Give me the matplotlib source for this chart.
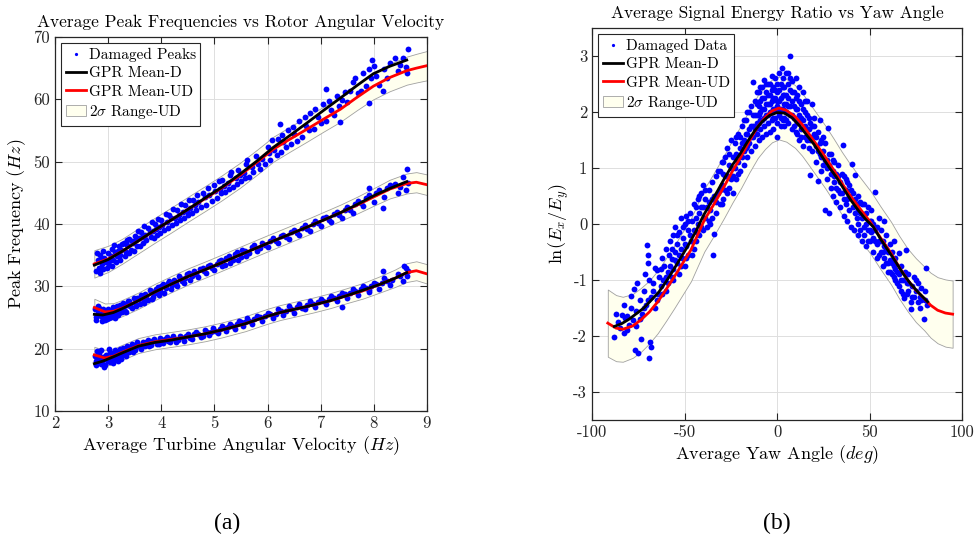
import numpy as np
import matplotlib
matplotlib.use('Agg')
import matplotlib.pyplot as plt

plt.rcParams['font.family'] = 'serif'
plt.rcParams['font.serif'] = ['cmr10']
plt.rcParams['mathtext.fontset'] = 'cm'
plt.rcParams['axes.formatter.use_mathtext'] = False
plt.rcParams['axes.unicode_minus'] = False

# ---------------- (a) peak frequencies vs rotor angular velocity ----------------
# GPR mean of undamaged data (red) and its 2 sigma half width, three peaks
up_x = [2.74, 3.0, 3.26, 3.57, 3.88, 4.2, 4.51, 4.83, 5.14, 5.48, 5.8, 6.11, 6.42,
        6.74, 7.05, 7.37, 7.68, 7.99, 8.3, 8.62, 8.8, 9.0]
up_ud = [33.6, 34.4, 35.6, 37.3, 39.0, 40.7, 42.4, 44.1, 45.8, 47.8, 49.9, 52.0, 53.6,
         55.2, 56.8, 58.4, 60.3, 62.1, 63.5, 64.6, 65.0, 65.4]
up_sig = [2.2, 2.1, 2.0, 2.0, 2.0, 2.0, 2.0, 2.0, 2.0, 2.0, 2.0, 2.0, 2.0,
          2.0, 2.0, 2.0, 2.05, 2.1, 2.2, 2.25, 2.3, 2.35]
up_dx = [2.74, 3.0, 3.26, 3.57, 3.88, 4.2, 4.51, 4.83, 5.14, 5.48, 5.8, 6.11, 6.42,
         6.74, 7.05, 7.37, 7.68, 7.99, 8.3, 8.62]
up_d = [33.4, 34.3, 35.6, 37.3, 39.05, 40.7, 42.4, 44.2, 45.9, 48.0, 50.1, 52.3, 54.2,
        56.2, 58.2, 60.2, 62.2, 64.1, 65.3, 66.3]

mid_x = [2.74, 2.94, 3.1, 3.26, 3.57, 3.88, 4.2, 4.51, 4.83, 5.14, 5.58, 6.0, 6.4, 6.8,
         7.37, 7.68, 7.99, 8.3, 8.62, 8.8, 9.0]
mid_ud = [26.6, 25.9, 26.0, 26.5, 27.7, 29.1, 30.4, 31.6, 32.7, 33.8, 35.4, 36.9, 38.3,
          39.7, 41.8, 43.0, 44.3, 45.6, 46.5, 46.7, 46.3]
mid_sig = [1.4, 1.35, 1.3, 1.3, 1.3, 1.3, 1.3, 1.3, 1.3, 1.3, 1.3, 1.3, 1.3, 1.3,
           1.3, 1.35, 1.4, 1.5, 1.6, 1.62, 1.65]
mid_dx = [2.74, 2.9, 3.1, 3.26, 3.57, 3.88, 4.2, 4.51, 4.83, 5.14, 5.58, 6.0, 6.4, 6.8,
          7.37, 7.68, 7.99, 8.3, 8.62]
mid_d = [25.5, 25.4, 25.8, 26.4, 27.7, 29.1, 30.4, 31.6, 32.7, 33.8, 35.4, 36.9, 38.3,
         39.7, 41.8, 43.1, 44.5, 45.7, 46.8]

low_x = [2.74, 2.94, 3.1, 3.26, 3.57, 3.88, 4.2, 4.51, 4.83, 5.14, 5.58, 6.0, 6.24,
         6.55, 6.86, 7.18, 7.49, 7.8, 8.11, 8.4, 8.62, 8.8, 9.0]
low_ud = [19.0, 18.5, 18.8, 19.4, 20.5, 21.1, 21.5, 21.9, 22.4, 23.0, 24.0, 25.2, 25.8,
          26.4, 27.0, 27.7, 28.5, 29.3, 30.3, 31.3, 32.2, 32.5, 32.0]
low_sig = [1.3, 1.25, 1.2, 1.2, 1.2, 1.2, 1.2, 1.2, 1.2, 1.2, 1.2, 1.2, 1.2,
           1.2, 1.2, 1.2, 1.2, 1.25, 1.3, 1.4, 1.5, 1.52, 1.55]
low_dx = [2.74, 2.9, 3.1, 3.26, 3.57, 3.88, 4.2, 4.51, 4.83, 5.14, 5.58, 6.0, 6.24,
          6.55, 6.86, 7.18, 7.49, 7.8, 8.11, 8.4, 8.62]
low_d = [17.6, 18.0, 18.7, 19.3, 20.4, 21.0, 21.4, 21.9, 22.4, 23.0, 24.0, 25.2, 25.8,
         26.4, 27.0, 27.7, 28.5, 29.4, 30.3, 31.3, 32.2]

# damaged peaks
up_pts = [(2.78,32.5),(2.8,34.2),(2.82,33.0),(2.85,35.0),(2.88,33.6),(2.9,32.8),(2.93,34.6),
    (2.96,33.9),(3.0,35.3),(3.02,33.4),(3.05,34.8),(3.08,36.0),(3.1,34.2),(3.13,35.5),
    (3.16,34.9),(3.2,36.4),(3.22,35.0),(3.25,35.9),(3.3,37.0),(3.33,35.5),(3.36,36.6),
    (3.4,37.6),(3.43,35.9),(3.47,36.9),(3.5,38.0),(3.54,36.5),(3.58,37.8),(3.62,38.7),
    (3.66,37.0),(3.7,38.2),(3.75,39.3),(3.8,37.9),(3.84,38.9),(3.88,40.0),(3.92,38.3),
    (3.96,39.5),(4.0,40.6),(4.05,39.0),(4.1,40.3),(4.15,41.5),(4.2,39.8),(4.25,41.0),
    (4.3,42.2),(4.35,40.6),(4.4,41.9),(4.45,43.0),(4.5,41.5),(4.55,42.6),(4.6,43.9),
    (4.65,42.2),(4.7,43.5),(4.78,45.0),(4.85,43.1),(4.9,44.6),(5.0,46.2),(5.05,44.2),
    (5.1,45.6),(5.15,47.0),(5.2,45.1),(5.25,46.6),(5.3,47.9),(5.35,45.9),(5.4,47.3),
    (5.45,48.6),(5.5,46.9),(5.55,48.2),(5.6,49.7),(5.65,47.6),(5.7,49.2),(5.78,50.9),
    (5.85,48.9),(5.9,50.5),(6.0,52.3),(6.05,50.2),(6.12,51.8),(6.2,53.6),(6.25,51.5),
    (6.3,53.2),(6.38,55.0),(6.45,52.8),(6.5,54.4),(6.6,56.5),(6.65,54.0),(6.72,55.8),
    (6.8,57.8),(6.88,55.3),(6.95,57.2),(7.05,59.2),(7.1,56.6),(7.2,58.3),(7.3,60.6),
    (7.35,58.9),(7.45,61.2),(7.5,59.6),(7.6,62.8),(7.7,61.0),(7.8,64.2),(7.85,62.2),
    (7.95,63.5),(8.0,65.3),(8.1,62.3),(8.2,64.8),(8.3,65.9),(8.45,64.5),(8.55,66.6),
    (8.6,65.2),(8.65,68.0),(8.62,64.3),(7.1,61.7),(7.9,59.4),(8.18,61.4),(7.96,66.3),
    (7.37,56.4),(6.24,56.0)]
up_pts2 = [(2.79,35.3),(2.84,32.1),(2.87,34.3),(2.91,35.6),(2.97,32.9),(3.01,34.0),
    (3.07,33.2),(3.11,36.6),(3.15,33.9),(3.19,35.7),(3.23,34.3),(3.27,36.8),(3.31,34.8),
    (3.35,37.4),(3.39,35.3),(3.44,37.2),(3.48,35.6),(3.52,37.5),(3.56,38.9),(3.6,36.4),
    (3.64,37.9),(3.68,39.6),(3.72,37.5),(3.78,38.7),(3.82,40.4),(3.86,37.8),(3.9,39.2),
    (3.94,40.8),(3.98,38.6),(4.02,39.8),(4.08,41.6),(4.12,39.4),(4.18,40.9),(4.22,42.4),
    (4.28,40.2),(4.33,41.4),(4.38,43.2),(4.43,41.0),(4.48,42.1),(4.53,43.9),(4.58,41.8),
    (4.63,43.1),(4.68,44.6),(4.74,42.7),(4.82,44.3),(4.88,45.8),(4.95,43.7),(5.02,45.3),
    (5.08,46.9),(5.12,44.9),(5.18,46.1),(5.28,45.6),(5.32,48.3),(5.42,46.4),(5.48,47.8),
    (5.58,47.4),(5.62,50.3),(5.72,48.3),(5.82,49.6),(5.95,49.7),(6.02,51.4),(6.08,53.4),
    (6.18,51.1),(6.28,54.3),(6.35,52.4),(6.48,55.5),(6.55,53.3),(6.7,57.2),(6.78,55.0),
    (6.9,58.5),(7.0,56.2),(7.15,59.7),(7.25,57.5),(7.4,59.9),(7.55,61.4),(7.65,63.4),
    (7.75,61.4),(7.9,64.9),(8.05,63.8),(8.25,63.5),(8.4,66.6),(8.5,65.5)]

mid_pts = [(2.76,26.3),(2.78,25.0),(2.8,25.8),(2.83,26.6),(2.86,25.2),(2.9,24.9),(2.92,26.0),
    (2.95,25.3),(2.98,24.8),(3.0,26.4),(3.03,25.5),(3.06,25.0),(3.1,26.7),(3.13,25.8),
    (3.17,26.9),(3.2,25.7),(3.24,26.5),(3.28,27.3),(3.32,26.1),(3.36,27.0),(3.4,27.7),
    (3.45,26.5),(3.5,27.4),(3.55,28.2),(3.6,27.1),(3.65,28.0),(3.7,28.8),(3.75,27.8),
    (3.8,29.2),(3.85,28.3),(3.9,29.5),(3.95,28.6),(4.0,30.1),(4.06,29.0),(4.12,30.5),
    (4.18,29.6),(4.24,31.0),(4.3,30.1),(4.36,31.4),(4.42,30.6),(4.48,31.9),(4.55,31.0),
    (4.62,32.4),(4.7,31.5),(4.78,33.0),(4.85,32.2),(4.92,33.5),(5.0,32.6),(5.08,34.0),
    (5.15,33.2),(5.22,34.6),(5.3,33.7),(5.38,35.2),(5.45,34.3),(5.52,35.8),(5.6,34.9),
    (5.7,36.3),(5.8,35.6),(5.9,37.0),(6.0,36.3),(6.1,37.8),(6.2,36.9),(6.3,38.3),
    (6.4,37.6),(6.5,39.1),(6.6,38.3),(6.7,39.9),(6.8,38.9),(6.9,40.5),(7.0,39.6),
    (7.1,41.2),(7.2,40.3),(7.3,42.0),(7.4,41.0),(7.5,42.8),(7.6,41.8),(7.7,43.7),
    (7.8,42.9),(7.9,44.6),(8.0,43.5),(8.1,45.4),(8.2,44.3),(8.3,46.2),(8.45,45.0),
    (8.55,47.5),(8.6,45.5),(8.62,48.9),(8.65,46.6),(7.9,45.7),(8.18,42.6)]
mid_pts2 = [(2.77,24.6),(2.81,26.9),(2.84,25.5),(2.88,24.5),(2.91,26.4),(2.94,24.6),
    (2.97,25.8),(3.01,24.9),(3.05,26.1),(3.08,25.3),(3.12,24.9),(3.15,26.3),(3.19,25.4),
    (3.22,27.0),(3.26,25.9),(3.3,26.8),(3.34,25.9),(3.38,27.6),(3.42,26.8),(3.48,28.1),
    (3.52,26.9),(3.58,27.9),(3.62,28.6),(3.68,27.4),(3.72,28.4),(3.78,29.4),(3.83,28.0),
    (3.88,28.9),(3.93,29.9),(3.98,29.2),(4.03,30.4),(4.09,29.7),(4.15,30.9),(4.21,30.2),
    (4.27,30.6),(4.33,31.7),(4.39,30.9),(4.45,31.3),(4.52,32.2),(4.58,31.6),(4.65,32.0),
    (4.73,32.8),(4.8,32.5),(4.88,33.2),(4.96,32.9),(5.04,33.6),(5.12,34.3),(5.2,33.5),
    (5.27,34.9),(5.35,34.2),(5.42,35.5),(5.5,34.7),(5.57,35.6),(5.65,35.4),(5.75,36.6),
    (5.85,36.1),(5.95,36.6),(6.05,37.3),(6.15,37.2),(6.25,38.0),(6.35,37.9),(6.45,38.7),
    (6.55,38.6),(6.65,39.4),(6.75,39.2),(6.85,40.0),(6.95,40.1),(7.05,40.9),(7.15,40.7),
    (7.25,41.6),(7.35,41.4),(7.45,42.3),(7.55,42.3),(7.65,43.2),(7.75,43.4),(7.85,44.1),
    (8.05,44.9),(8.25,45.8),(8.4,46.4),(8.5,46.0)]

low_pts = [(2.76,18.9),(2.78,17.4),(2.8,18.2),(2.83,19.3),(2.86,17.6),(2.9,18.6),(2.93,17.1),
    (2.96,19.0),(3.0,18.0),(3.03,19.4),(3.06,18.5),(3.1,17.7),(3.13,19.8),(3.17,18.9),
    (3.2,19.5),(3.24,18.3),(3.28,20.1),(3.32,19.2),(3.36,20.4),(3.4,19.4),(3.45,20.7),
    (3.5,19.8),(3.55,21.0),(3.6,20.2),(3.65,21.1),(3.7,20.4),(3.75,21.4),(3.8,20.6),
    (3.86,21.6),(3.92,20.8),(3.98,21.7),(4.04,20.9),(4.1,21.8),(4.16,21.0),(4.22,22.0),
    (4.28,21.1),(4.35,22.1),(4.42,21.3),(4.5,22.4),(4.58,21.6),(4.66,22.7),(4.74,21.9),
    (4.82,23.0),(4.9,22.2),(4.98,23.3),(5.06,22.5),(5.14,23.6),(5.22,22.8),(5.3,24.0),
    (5.38,23.2),(5.46,24.5),(5.54,23.6),(5.62,24.9),(5.7,24.0),(5.8,25.3),(5.9,24.5),
    (6.0,25.8),(6.1,24.9),(6.2,26.4),(6.3,25.4),(6.4,26.8),(6.5,25.8),(6.6,27.1),
    (6.7,26.3),(6.8,27.6),(6.9,26.7),(7.0,28.0),(7.1,27.1),(7.2,28.5),(7.3,27.6),
    (7.4,29.0),(7.5,28.1),(7.6,29.6),(7.7,28.6),(7.8,30.1),(7.9,29.1),(8.0,30.6),
    (8.1,29.6),(8.2,31.3),(8.3,30.2),(8.45,31.9),(8.55,30.9),(8.6,33.0),(8.65,32.4),
    (8.62,31.6),(7.4,26.7),(7.9,29.4),(8.18,32.4),(8.56,33.2)]
low_pts2 = [(2.77,18.0),(2.79,19.6),(2.81,17.8),(2.84,18.7),(2.87,19.8),(2.89,17.9),
    (2.92,18.4),(2.95,17.4),(2.98,18.6),(3.01,19.9),(3.04,17.8),(3.08,19.1),(3.11,18.3),
    (3.15,19.3),(3.19,18.1),(3.22,19.9),(3.26,19.0),(3.3,19.6),(3.34,18.8),(3.38,19.9),
    (3.42,20.2),(3.47,19.5),(3.52,20.5),(3.57,20.6),(3.62,19.9),(3.67,20.8),(3.72,21.0),
    (3.77,20.5),(3.83,21.2),(3.89,21.3),(3.95,20.7),(4.01,21.4),(4.07,21.5),(4.13,21.2),
    (4.19,21.6),(4.25,21.6),(4.31,21.4),(4.38,21.9),(4.46,22.0),(4.54,21.7),(4.62,22.3),
    (4.7,22.3),(4.78,22.1),(4.86,22.6),(4.94,22.7),(5.02,22.9),(5.1,23.1),(5.18,23.3),
    (5.26,23.4),(5.34,23.7),(5.42,23.9),(5.5,24.2),(5.58,24.3),(5.66,24.5),(5.75,24.7),
    (5.85,25.1),(5.95,25.2),(6.05,25.5),(6.15,25.6),(6.25,26.0),(6.35,26.1),(6.45,26.3),
    (6.55,26.7),(6.65,26.6),(6.75,27.0),(6.85,27.2),(6.95,27.5),(7.05,27.6),(7.15,27.9),
    (7.25,28.2),(7.35,28.4),(7.45,28.7),(7.55,28.9),(7.65,29.3),(7.75,29.6),(7.85,29.7),
    (7.95,30.0),(8.05,30.3),(8.15,30.6),(8.25,30.8),(8.35,31.0),(8.5,31.6)]

# ---------------- (b) signal energy ratio vs yaw angle ----------------
yaw_x = [-91.5, -87, -83.4, -78, -73.5, -69, -64.5, -60, -55.5, -51, -46.5, -43, -39.3,
         -34, -28.6, -24, -19.5, -15, -10.4, -6.5, -2.7, 1, 5, 9.7, 13.5, 17, 21.5, 26,
         30.5, 35, 39.5, 44, 50.5, 56, 61.6, 66, 70.6, 75, 79.6, 83, 86.8, 91, 94.9]
yaw_ud = [-1.77, -1.86, -1.88, -1.82, -1.71, -1.57, -1.39, -1.17, -0.94, -0.70, -0.46,
          -0.2, 0.07, 0.36, 0.67, 0.95, 1.2, 1.48, 1.74, 1.9, 2.02, 2.07, 2.03, 1.92,
          1.78, 1.62, 1.41, 1.2, 0.97, 0.73, 0.51, 0.31, 0.03, -0.25, -0.52, -0.77,
          -1.0, -1.18, -1.33, -1.45, -1.54, -1.59, -1.61]
yaw_sig = [0.6, 0.59, 0.58, 0.57, 0.57, 0.56, 0.56, 0.56, 0.56, 0.56, 0.56, 0.56, 0.56,
           0.56, 0.56, 0.56, 0.56, 0.56, 0.56, 0.56, 0.56, 0.56, 0.56, 0.56, 0.56, 0.56,
           0.56, 0.56, 0.56, 0.56, 0.56, 0.56, 0.56, 0.56, 0.56, 0.56, 0.56, 0.57, 0.57,
           0.58, 0.59, 0.6, 0.6]
yaw_dx = [-88, -84, -80, -76, -72, -68, -64, -60, -56, -52, -48, -44, -40, -36, -32, -28,
          -24, -20, -16, -12, -8, -4, 0, 4, 8, 12, 16, 20, 24, 28, 32, 36, 40, 44, 48, 52,
          56, 60, 64, 68, 72, 76, 81.4]
yaw_d = [-1.83, -1.78, -1.7, -1.6, -1.5, -1.36, -1.22, -1.03, -0.82, -0.6, -0.38, -0.14,
         0.14, 0.37, 0.6, 0.84, 1.06, 1.25, 1.47, 1.67, 1.83, 1.94, 1.99, 1.98, 1.9, 1.76,
         1.59, 1.42, 1.22, 1.02, 0.84, 0.63, 0.42, 0.24, 0.08, -0.05, -0.27, -0.47, -0.67,
         -0.88, -1.06, -1.21, -1.39]

yaw_left_pts = [(-88,-2.01),(-86,-1.75),(-84,-1.62),(-83,-1.95),(-82,-1.68),(-81,-1.64),
    (-80,-1.8),(-79,-1.5),(-78,-1.72),(-77,-2.25),(-77.5,-1.16),(-76,-1.55),(-75.7,-1.05),
    (-75,-2.3),(-74,-1.35),(-73.5,-2.05),(-73,-1.6),(-72,-1.2),(-71.6,-0.9),(-71,-1.45),
    (-70.3,-0.38),(-70,-0.55),(-70,-0.69),(-69,-2.4),(-68.5,-2.1),(-68,-2.2),(-68,-1.3),
    (-67,-1.05),(-66.2,-0.78),(-66,-1.5),(-65,-0.82),(-64.5,-1.25),(-64,-0.95),(-63,-1.1),
    (-62,-0.6),(-61.5,-1.0),(-61,-0.75),(-60,-0.45),(-60,-1.2),(-59,-0.85),(-58.5,-0.55),
    (-58,-0.3),(-57,-0.95),(-57,-0.62),(-56,-0.2),(-56,-0.8),(-55,-0.5),(-55,-0.05),
    (-54,-0.7),(-54,-0.35),(-53,-0.15),(-53,-0.9),(-52,-0.45),(-52,0.1),(-51.5,-0.6),
    (-51,-0.25),(-50,0.0),(-50,-0.75),(-49,-0.4),(-49,0.15),(-48,-0.1),(-48,-0.55),
    (-47,0.2),(-46.5,-0.3),(-46,0.05),(-45,-0.45),(-45,0.35),(-44,0.1),(-43.5,-0.15),
    (-43,0.45),(-42,0.2),(-41,0.55),(-41,-0.05),(-40,0.3),(-40,0.7),
    (-87,-1.6),(-85,-1.85),(-83,-1.45),(-81,-1.9),(-79,-1.28),(-76,-1.82),(-74,-1.7),
    (-72,-1.5),(-70,-1.35),(-69,-1.0),(-67,-1.2),(-65,-1.35),(-63,-0.8),(-62,-1.25),
    (-60,-0.95),(-59,-1.05),(-58,-0.75),(-57,-0.45),(-56,-1.0),(-55,-0.65),(-54,-0.2),
    (-53,-0.55),(-52,-0.75),(-51,-0.05),(-50,-0.35),(-49,-0.6),(-48,0.05),(-47,-0.2),
    (-46,-0.55),(-45,-0.1),(-44,0.3),(-44,-0.3),(-43,0.0),(-42,-0.2),(-42,0.5),(-41,0.3),
    (-40,-0.1)]

yaw_peak_pts = [(-39,0.45),(-38,-0.05),(-38,0.3),(-37,0.6),(-36,0.0),(-36,0.25),(-35,0.75),
    (-34.8,-0.55),(-34,-0.17),(-34,0.5),(-33,0.85),(-33,0.2),(-32,0.55),(-31,0.95),
    (-31,0.35),(-30,0.7),(-30,1.1),(-29,0.45),(-29,0.9),(-28,1.2),(-28,0.6),(-27,0.85),
    (-27,1.35),(-26,0.65),(-26,1.05),(-25,1.5),(-25,0.8),(-24,1.2),(-24,0.55),(-23,1.0),
    (-23,1.45),(-22,1.25),(-22,0.8),(-21,1.6),(-21,1.1),(-20,1.35),(-20,0.95),(-19,1.75),
    (-19,1.2),(-18,1.5),(-18,1.05),(-17,1.85),(-17,1.35),(-16,1.6),(-16,1.2),(-15,2.0),
    (-15,1.45),(-14,1.75),(-14,1.3),(-13.1,2.54),(-13,1.95),(-13,1.55),(-12,2.2),(-12,1.7),
    (-12,1.4),(-11,1.95),(-11,2.35),(-11,1.6),(-10,2.1),(-10,1.8),(-10,1.5),(-9,2.45),
    (-9,2.0),(-9,1.7),(-8,2.25),(-8,1.85),(-8,1.55),(-7,2.57),(-7,2.05),(-7,1.75),
    (-6,2.35),(-6,1.95),(-6,1.6),(-5,2.5),(-5,2.15),(-5,1.8),(-4,2.3),(-4,2.0),(-4,1.65),
    (-3,2.65),(-3,2.2),(-3,1.85),(-2,2.45),(-2,2.05),(-2,1.7),(-1,2.6),(-1,2.25),(-1,1.9),
    (0,2.35),(0,2.1),(0,1.55),(0,1.8),(1,2.7),(1,2.2),(1,1.95),(2,2.5),(2,2.05),(2,1.75),
    (2.5,2.78),(3,2.3),(3,1.85),(3,2.6),(4,2.15),(4,1.9),(4,2.45),(5,2.7),(5,2.0),(5,2.3),
    (6.1,2.69),(6,1.8),(6,2.1),(7,3.0),(7,2.4),(7,1.95),(8,2.55),(8,2.2),(8,1.7),(9,2.35),
    (9,1.9),(10,2.6),(10,2.05),(10,1.65),(11,2.3),(11,1.8),(12,2.45),(12,1.95),(12,1.5),
    (13,2.15),(13,1.7),(14,2.35),(14,1.85),(14,1.4),(15,2.0),(15,1.55),(16,2.2),(16,1.7),
    (17,1.9),(17.8,0.88),(18,1.5),(18.7,2.15),(19,1.75),(19,1.3),(20,1.6),(20,1.9),
    (21,1.4),(21,1.1),(22.3,0.76),(22,1.65),(23.2,1.86),(23,1.25),(24,1.5),(24,0.95),
    (25,1.3),(25,1.05),(26,0.25),(26,1.45),(27,1.15),(27.7,1.71),(27,0.8),(28,0.2),
    (28,1.05),(29,1.25),(29,0.65),(30,0.95),(30,0.5),(31,1.1),(31,0.75),(32,0.4),(32,0.9),
    (33,0.6),(33,1.05),(34,0.75),(34,0.3),(35,0.55),(35.9,1.41),(36,0.85),(36,0.15),
    (37,0.6),(37,0.35),(38,0.75),(38,0.05),(39,0.5),(39,0.25),(40.4,1.08),(40,0.6),
    (40,-0.05),
    (-39,0.6),(-39,0.1),(-37,0.4),(-37,0.05),(-35,0.45),(-35,0.1),(-33,0.4),(-32,0.95),
    (-31,0.6),(-30,0.35),(-29,1.1),(-28,0.85),(-27,0.55),(-26,1.25),(-25,1.0),(-24,0.85),
    (-23,1.2),(-22,1.55),(-21,0.9),(-20,1.55),(-19,1.45),(-18,1.3),(-18,1.85),(-17,1.6),
    (-16,1.4),(-16,2.0),(-15,1.7),(-14,1.55),(-14,2.1),(-13,1.75),(-12,1.95),(-11,1.8),
    (-11,2.15),(-10,1.95),(-10,2.35),(-9,1.85),(-9,2.2),(-8,2.05),(-8,2.45),(-7,1.9),
    (-7,2.25),(-6,2.15),(-6,2.5),(-5,1.95),(-5,2.3),(-4,2.15),(-4,2.5),(-3,2.0),(-3,2.4),
    (-2,2.25),(-2,1.9),(-1,2.05),(-1,2.4),(0,2.2),(0,2.5),(1,2.05),(1,2.4),(2,2.25),
    (2,1.9),(3,2.05),(3,2.45),(4,2.3),(4,1.75),(5,2.15),(5,1.85),(6,2.25),(6,2.5),(7,2.1),
    (7,2.6),(8,2.35),(8,1.95),(9,2.1),(9,1.75),(10,2.25),(10,1.85),(11,2.05),(11,1.6),
    (12,2.2),(12,1.8),(13,1.9),(13,1.55),(14,2.05),(15,1.75),(15,2.2),(16,1.95),(16,1.5),
    (17,1.7),(17,1.35),(18,1.8),(19,1.55),(20,1.75),(21,1.55),(22,1.3),(23,1.45),(24,1.2),
    (25,1.55),(26,1.15),(27,1.0),(28,1.25),(29,0.9),(30,1.15),(31,0.85),(32,0.65),
    (33,0.85),(34,0.55),(35,0.9),(36,0.45),(37,0.8),(38,0.45),(39,0.7)]

yaw_right_pts = [(41,0.3),(41.8,-0.11),(42.2,0.88),(42,0.45),(43,0.1),(43.7,-0.2),(44,0.5),
    (44,0.25),(45,-0.1),(45,0.4),(46,0.1),(46,-0.3),(47,0.35),(47,-0.05),(48,0.2),(48,-0.4),
    (49,-0.1),(49,0.3),(50,0.05),(50,-0.3),(51,-0.15),(51,0.25),(52,-0.5),(52,0.0),
    (53,0.58),(53,-0.3),(54,-0.05),(54,-0.6),(55,-0.3),(55,0.1),(56,-0.5),(56,-0.1),
    (57,-0.75),(57,-0.3),(58,-0.4),(58,0.05),(59,-0.7),(59,-0.2),(60,-0.5),(60,-0.85),
    (61,-0.35),(61,-0.65),(62,-0.9),(62,-0.5),(63,-0.3),(63,-0.75),(64,-1.0),(64,-0.6),
    (65,-0.85),(66,-0.52),(66,-1.1),(67,-0.75),(67,-1.0),(68,-1.25),(68.8,-1.33),
    (69,-0.85),(69.7,-0.46),(70,-1.05),(71,-1.2),(71,-0.9),(72.4,-1.39),(72.4,-1.51),
    (73,-1.1),(74,-1.3),(74,-0.95),(75,-1.2),(76,-1.4),(76,-1.05),(77,-1.3),(78,-1.15),
    (79.6,-1.69),(80.5,-0.79),(80,-1.35),(81,-1.45),
    (41,0.55),(42,0.2),(43,0.35),(44,0.0),(45,0.2),(46,0.35),(47,-0.2),(48,0.0),(49,-0.3),
    (50,-0.1),(51,0.05),(52,-0.25),(53,-0.1),(54,-0.35),(55,-0.55),(56,-0.3),(57,-0.5),
    (58,-0.6),(59,-0.45),(60,-0.7),(61,-0.85),(62,-0.7),(63,-0.95),(64,-0.8),(65,-1.05),
    (66,-0.9),(67,-1.2),(68,-1.0),(70,-1.25),(71,-1.05),(73,-1.3),(75,-1.0),(77,-1.5),
    (78,-1.35),(80,-1.2)]

BAND_FACE = '#ffffee'
BAND_EDGE = '#a0a0a0'
GRID = '#dedede'


def style_axes(ax):
    ax.tick_params(direction='in', length=5, width=0.8, top=True, right=True,
                   labelsize=12, colors='#262626')
    ax.grid(True, color=GRID, linewidth=0.7)
    ax.set_axisbelow(True)
    for s in ax.spines.values():
        s.set_color('#262626')
        s.set_linewidth(0.9)


def band(ax, x, m, s):
    x = np.array(x)
    m = np.array(m)
    s = np.array(s)
    return ax.fill_between(x, m - s, m + s, facecolor=BAND_FACE, edgecolor=BAND_EDGE,
                           linewidth=0.6, zorder=1)


def legend(ax, handles, labels):
    leg = ax.legend(handles, labels, loc='upper left', fontsize=11, fancybox=False,
                    framealpha=1, edgecolor='#262626', handlelength=1.3,
                    handletextpad=0.2, borderpad=0.3, labelspacing=0.3,
                    borderaxespad=0.4, markerscale=0.55)
    leg.get_frame().set_linewidth(0.8)


fig = plt.figure(figsize=(9.77, 5.48), dpi=100)
ax1 = fig.add_axes([0.0563, 0.25, 0.3807, 0.6825])
ax2 = fig.add_axes([0.606, 0.2336, 0.3787, 0.7153])

# left panel
h_band = band(ax1, up_x, up_ud, up_sig)
band(ax1, mid_x, mid_ud, mid_sig)
band(ax1, low_x, low_ud, low_sig)
for pts in (up_pts, up_pts2, mid_pts, mid_pts2, low_pts, low_pts2):
    px, py = np.array(pts).T
    h_pts, = ax1.plot(px, py, 'o', color='#0000ff', ms=4.2, mew=0, zorder=2)
for xx, yy in ((up_x, up_ud), (mid_x, mid_ud), (low_x, low_ud)):
    h_ud, = ax1.plot(xx, yy, color='#ff0000', lw=2, zorder=3)
for xx, yy in ((up_dx, up_d), (mid_dx, mid_d), (low_dx, low_d)):
    h_d, = ax1.plot(xx, yy, color='black', lw=2, zorder=4)

ax1.set_xlim(2, 9)
ax1.set_ylim(10, 70)
ax1.set_xticks(range(2, 10))
ax1.set_yticks(range(10, 71, 10))
style_axes(ax1)
ax1.set_title('Average Peak Frequencies vs Rotor Angular Velocity', fontsize=12.5, pad=7)
ax1.set_xlabel('Average Turbine Angular Velocity $(Hz)$', fontsize=13, labelpad=2)
ax1.set_ylabel('Peak Frequency $(Hz)$', fontsize=13, labelpad=4)
legend(ax1, [h_pts, h_d, h_ud, h_band],
       ['Damaged Peaks', 'GPR Mean-D', 'GPR Mean-UD', r'$2\sigma$ Range-UD'])

# right panel
h_band2 = band(ax2, yaw_x, yaw_ud, yaw_sig)
for pts in (yaw_left_pts, yaw_peak_pts, yaw_right_pts):
    px, py = np.array(pts).T
    h_pts2, = ax2.plot(px, py, 'o', color='#0000ff', ms=4.2, mew=0, zorder=2)
h_ud2, = ax2.plot(yaw_x, yaw_ud, color='#ff0000', lw=2, zorder=3)
h_d2, = ax2.plot(yaw_dx, yaw_d, color='black', lw=2, zorder=4)

ax2.set_xlim(-100, 100)
ax2.set_ylim(-3.5, 3.5)
ax2.set_xticks(range(-100, 101, 50))
ax2.set_yticks(range(-3, 4))
style_axes(ax2)
ax2.set_title('Average Signal Energy Ratio vs Yaw Angle', fontsize=12.5, pad=7)
ax2.set_xlabel('Average Yaw Angle $(deg)$', fontsize=13, labelpad=2)
ax2.set_ylabel(r'$\ln(E_x/E_y)$', fontsize=13, labelpad=2)
legend(ax2, [h_pts2, h_d2, h_ud2, h_band2],
       ['Damaged Data', 'GPR Mean-D', 'GPR Mean-UD', r'$2\sigma$ Range-UD'])

fig.text(0.2323, 0.045, '(a)', ha='center', va='center', fontsize=17,
         family='Liberation Serif')
fig.text(0.7953, 0.045, '(b)', ha='center', va='center', fontsize=17,
         family='Liberation Serif')

fig.savefig('out.png', dpi=100)
